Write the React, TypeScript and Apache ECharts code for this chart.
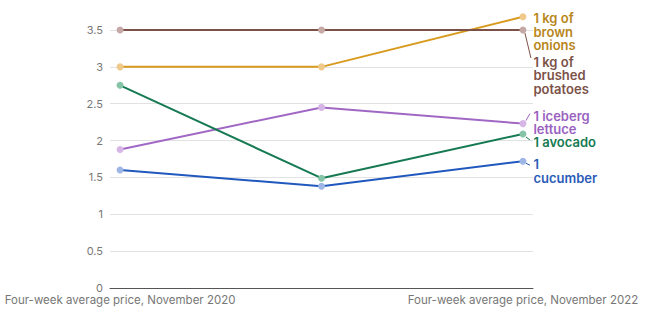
import React, { useEffect, useRef } from "react";
import * as echarts from "echarts";

const xLabels = [
  "Four-week average price, November 2020",
  "Four-week average price, November 2021",
  "Four-week average price, November 2022",
];
const seriesNames = [
  "1 kg of\nbrown\nonions",
  "1 kg of\nbrushed\npotatoes",
  "1 iceberg\nlettuce",
  "1 avocado",
  "1\ncucumber",
];
const onions = [3.0, 3.0, 3.68];
const potatoes = [3.5, 3.5, 3.5];
const lettuce = [1.88, 2.45, 2.23];
const avocado = [2.75, 1.49, 2.09];
const cucumber = [1.6, 1.38, 1.72];
const yTicks = [0, 0.5, 1, 1.5, 2, 2.5, 3, 3.5];

const colors = ["#d89a1e", "#7c5248", "#a068c4", "#157a53", "#2058be"];
const markerColors = ["#efc98a", "#c6a8a6", "#d6b6e6", "#86c4a8", "#9db6e6"];
const labelColors = ["#b8861a", "#7c5248", "#9a62bf", "#157a53", "#2a5cb8"];
const labelDy = [15, 45, -1, 8, 10];
// leader line [dx1, dy1, dx2, dy2] relative to the last point, or null
const leaders: (number[] | null)[] = [
  null,
  [2, 3, 8, 28],
  [3, -3, 7, -10],
  [3, 3, 7, 6],
  [3, 2, 7, 4],
];

export default function App() {
  const ref = useRef<HTMLDivElement>(null);
  useEffect(() => {
    const chart = echarts.init(ref.current!, undefined, { renderer: "svg" });
    const values = [onions, potatoes, lettuce, avocado, cucumber];
    const series = values.map((vals, s) => ({
      type: "line",
      name: seriesNames[s],
      clip: false,
      symbol: "circle",
      symbolSize: 7,
      lineStyle: { color: colors[s], width: 2 },
      itemStyle: { color: markerColors[s], borderWidth: 0 },
      data: vals.map((v, i) =>
        i === vals.length - 1
          ? {
              value: [i, v],
              label: {
                show: true,
                position: "right",
                distance: 7,
                offset: [0, labelDy[s]],
                formatter: seriesNames[s],
                color: labelColors[s],
                fontFamily: "Inter",
                fontWeight: 600,
                fontSize: 13,
                lineHeight: 13.5,
                align: "left",
              },
            }
          : { value: [i, v] }
      ),
    }));
    chart.setOption({
      animation: false,
      grid: { left: 110, right: 113, top: 30, bottom: 37, containLabel: false },
      xAxis: {
        type: "value",
        min: -0.05,
        max: 2.05,
        axisLine: { show: true, lineStyle: { color: "#555", width: 1 } },
        axisTick: { show: false },
        splitLine: { show: false },
        axisLabel: {
          customValues: [0, 2],
          formatter: (v: number) => xLabels[Math.round(v)],
          color: "#777",
          fontFamily: "Inter",
          fontSize: 11.5,
          margin: 6,
        },
      },
      yAxis: {
        type: "value",
        min: 0,
        max: 3.5,
        interval: 0.5,
        axisLine: { show: false },
        axisTick: { show: false },
        splitLine: { show: true, lineStyle: { color: "#e2e2e2", width: 1 } },
        axisLabel: {
          customValues: yTicks,
          color: "#777",
          fontFamily: "Inter",
          fontSize: 11,
          margin: 7,
        },
      },
      series,
    });
    const graphics: any[] = [];
    values.forEach((vals, s) => {
      const l = leaders[s];
      if (!l) return;
      const p = chart.convertToPixel({ gridIndex: 0 }, [vals.length - 1, vals[vals.length - 1]]) as number[];
      graphics.push({
        type: "line",
        shape: { x1: p[0] + l[0], y1: p[1] + l[1], x2: p[0] + l[2], y2: p[1] + l[3] },
        style: { stroke: labelColors[s], lineWidth: 1 },
        z: 10,
      });
    });
    chart.setOption({ graphic: graphics });
    return () => chart.dispose();
  }, []);
  return <div ref={ref} style={{ width: 646, height: 325, position: "absolute", left: 0, top: 0 }} />;
}
